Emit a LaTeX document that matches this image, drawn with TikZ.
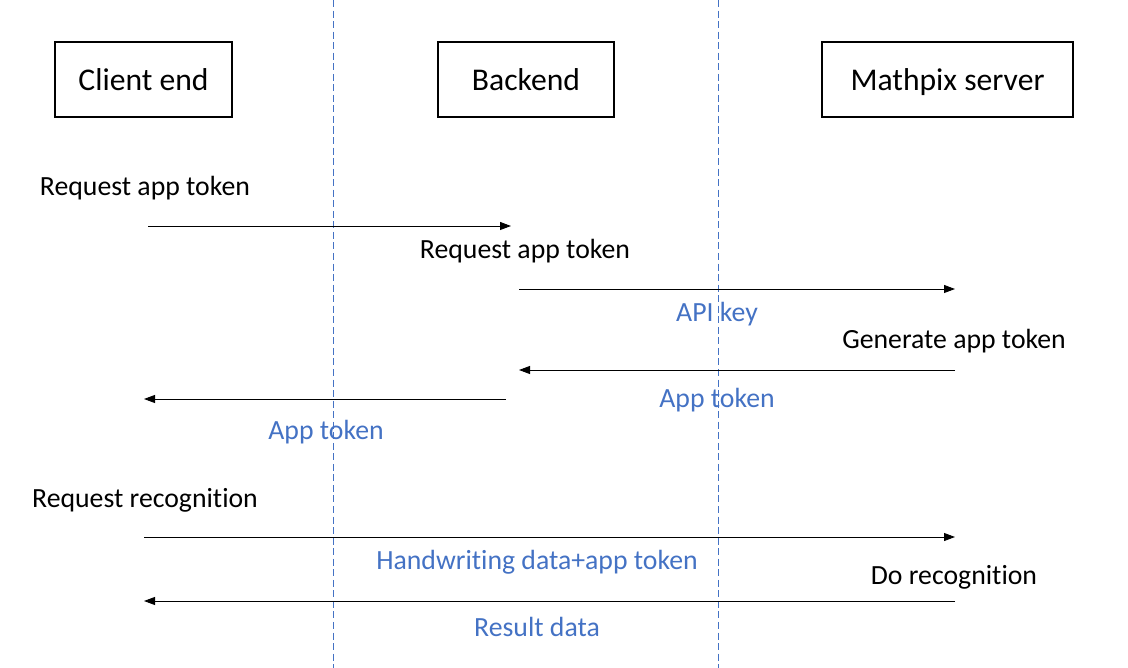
\documentclass[tikz,border=0pt]{standalone}
\usepackage{fontspec}
\setmainfont{Carlito}[Ligatures=NoCommon]
\usepackage{xcolor}
\usetikzlibrary{positioning,arrows.meta}
\definecolor{msgblue}{HTML}{4472C4}
\begin{document}
\begin{tikzpicture}[x=0.02cm, y=-0.02cm,
			party/.style={draw, line width=1.3pt, rectangle, minimum height=1.5cm, text height=12.5pt, text depth=0.5pt, font=\fontsize{18}{21}\selectfont},
			txt/.style={font=\fontsize{15.8}{18}\selectfont, inner sep=0pt},
			note/.style={txt, text=msgblue},
			arrow/.style={-{Triangle[length=2.2mm, width=1.6mm]}, line width=0.5pt},
			divider/.style={msgblue, dashed, dash pattern=on 4pt off 2pt, line width=0.4pt}]
			\useasboundingbox (0,0) rectangle (1128,668);
			% dashed separators
			\draw[divider] (333,0) -- (333,668);
			\draw[divider] (718,0) -- (718,668);
			
			\node[party, minimum width=3.54cm] (client) at (143.5,79.5) {Client end};
			\node[party, minimum width=3.52cm] (backend) at (526,79.5) {Backend};
			\node[party, minimum width=5.02cm] (mathpix) at (947.5,79.5) {Mathpix server};
			
			% request app token
			\node[txt] (req1) at (145,188) {Request app token};
			\coordinate (a1s) at (148,226);
			\coordinate (a1e) at (511,226);
			\draw[arrow] (a1s) -- (a1e);
			\node[txt] (req2) at (525,251) {Request app token};
			\coordinate (a2s) at (519,289);
			\coordinate (a2e) at (955,289);
			\draw[arrow] (a2s) -- (a2e);
			\node[note] (apikey) at (717,314) {API key};
			\node[txt] (gen) at (954,341) {Generate app token};
			\coordinate (a3s) at (955,370);
			\coordinate (a3e) at (519,370);
			\draw[arrow] (a3s) -- (a3e);
			\node[note] (tok1) at (717,400) {App token};
			\coordinate (a4s) at (506,399);
			\coordinate (a4e) at (144,399);
			\draw[arrow] (a4s) -- (a4e);
			\node[note] (tok2) at (326,432) {App token};
			
			% recognition
			\node[txt] (req3) at (145,500) {Request recognition};
			\coordinate (a5s) at (144,537);
			\coordinate (a5e) at (955,537);
			\draw[arrow] (a5s) -- (a5e);
			\node[note] (hw) at (537,562) {Handwriting data+app token};
			\node[txt] (rec) at (954,577) {Do recognition};
			\coordinate (a6s) at (955,601);
			\coordinate (a6e) at (144,601);
			\draw[arrow] (a6s) -- (a6e);
			\node[note] (res) at (537,627) {Result data};
		\end{tikzpicture}
\end{document}
